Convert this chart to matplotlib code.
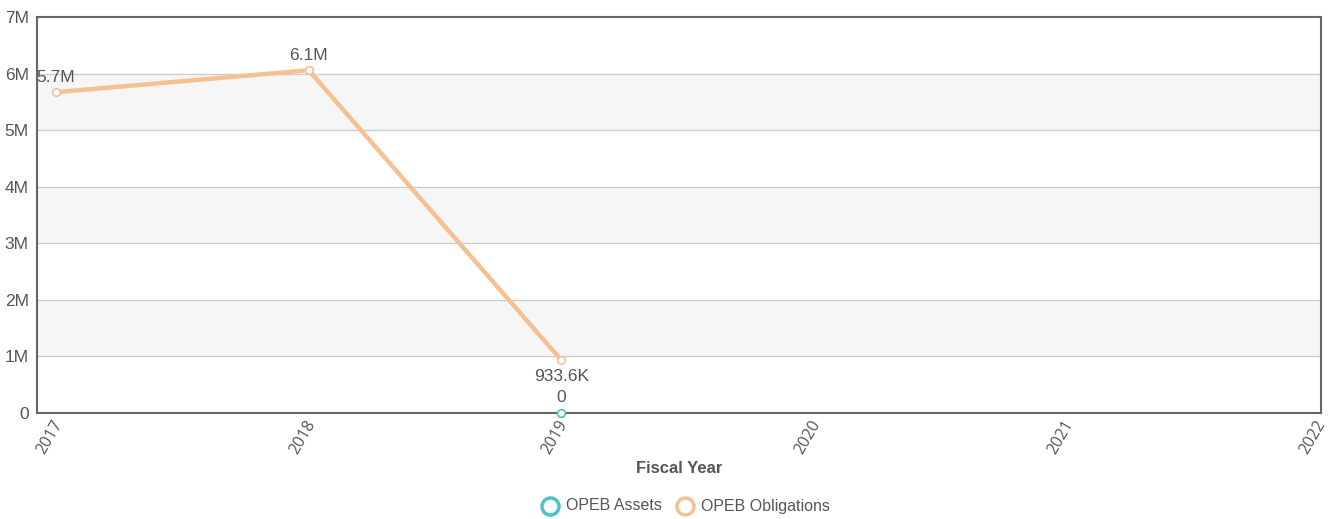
import numpy as np
import matplotlib.pyplot as plt
from matplotlib.transforms import ScaledTranslation

plt.rcParams['font.family'] = ['Liberation Sans', 'DejaVu Sans']

years = ['2017', '2018', '2019', '2020', '2021', '2022']
obligations = [5.67e6, 6.06e6, 933.6e3]
obligation_labels = ['5.7M', '6.1M', '933.6K']
assets = [0.0]
asset_labels = ['0']
asset_idx = [2]

c_assets = '#4fc2cb'
c_oblig = '#f5c193'
txt = '#555555'

fig = plt.figure(figsize=(13.35, 5.19), dpi=100)
ax = fig.add_axes([37 / 1335, 1 - 413 / 519, 1284 / 1335, 396 / 519])

x = np.arange(len(years))

# alternating bands and grid
for lo in range(1, 7, 2):
    ax.axhspan(lo * 1e6, (lo + 1) * 1e6, color='#f6f6f6', zorder=0)
for v in range(1, 7):
    ax.axhline(v * 1e6, color='#cccccc', lw=0.9, zorder=1)

ax.plot(x[:len(obligations)], obligations, color=c_oblig, lw=3.2, zorder=3,
        marker='o', markersize=5.5, markerfacecolor='white', markeredgecolor=c_oblig,
        markeredgewidth=1.2, solid_capstyle='round')
ax.plot(x[asset_idx], assets, color=c_assets, lw=3.2, zorder=4, clip_on=False,
        marker='o', markersize=5.5, markerfacecolor='white', markeredgecolor=c_assets,
        markeredgewidth=1.2)

for i, (v, s) in enumerate(zip(obligations, obligation_labels)):
    if i == 2:
        ax.annotate(s, (x[i], v), xytext=(0, -6), textcoords='offset points',
                    ha='center', va='top', fontsize=12.5, color=txt)
    else:
        ax.annotate(s, (x[i], v), xytext=(0, 5), textcoords='offset points',
                    ha='center', va='bottom', fontsize=12.5, color=txt)
for i, v, s in zip(asset_idx, assets, asset_labels):
    ax.annotate(s, (x[i], v), xytext=(0, 6), textcoords='offset points',
                ha='center', va='bottom', fontsize=12.5, color=txt)

ax.set_xlim(-0.075, 5.006)
ax.set_ylim(0, 7e6)
ax.set_yticks(np.arange(0, 8) * 1e6)
ax.set_yticklabels(['0'] + ['%dM' % v for v in range(1, 8)])
ax.set_xticks(x)
ax.set_xticklabels(years, rotation=60, ha='right', va='top', rotation_mode='anchor',
                   family=['Open Sans', 'DejaVu Sans'])
ax.tick_params(axis='both', length=0, labelcolor=txt)
ax.tick_params(axis='x', pad=3, labelsize=11.5)
ax.tick_params(axis='y', pad=6, labelsize=12.5)
shift = ScaledTranslation(-4 / 100, 0, fig.dpi_scale_trans)
for lab in ax.get_xticklabels():
    lab.set_transform(lab.get_transform() + shift)
for sp in ax.spines.values():
    sp.set_color('#666666')
    sp.set_linewidth(1.5)

ax.set_xlabel('Fiscal Year', fontsize=12, fontweight='bold', color=txt, labelpad=3)

h1 = ax.scatter([], [], s=150, facecolors='white', edgecolors=c_assets, linewidths=2.5)
h2 = ax.scatter([], [], s=150, facecolors='white', edgecolors=c_oblig, linewidths=2.5)
fig.legend([h1, h2], ['OPEB Assets', 'OPEB Obligations'], loc='center',
           bbox_to_anchor=(682 / 1335, 1 - 506 / 519), ncol=2, frameon=False,
           fontsize=11.5, labelcolor=txt, handletextpad=0.05, columnspacing=0.4)

fig.savefig('out.png', dpi=100)
